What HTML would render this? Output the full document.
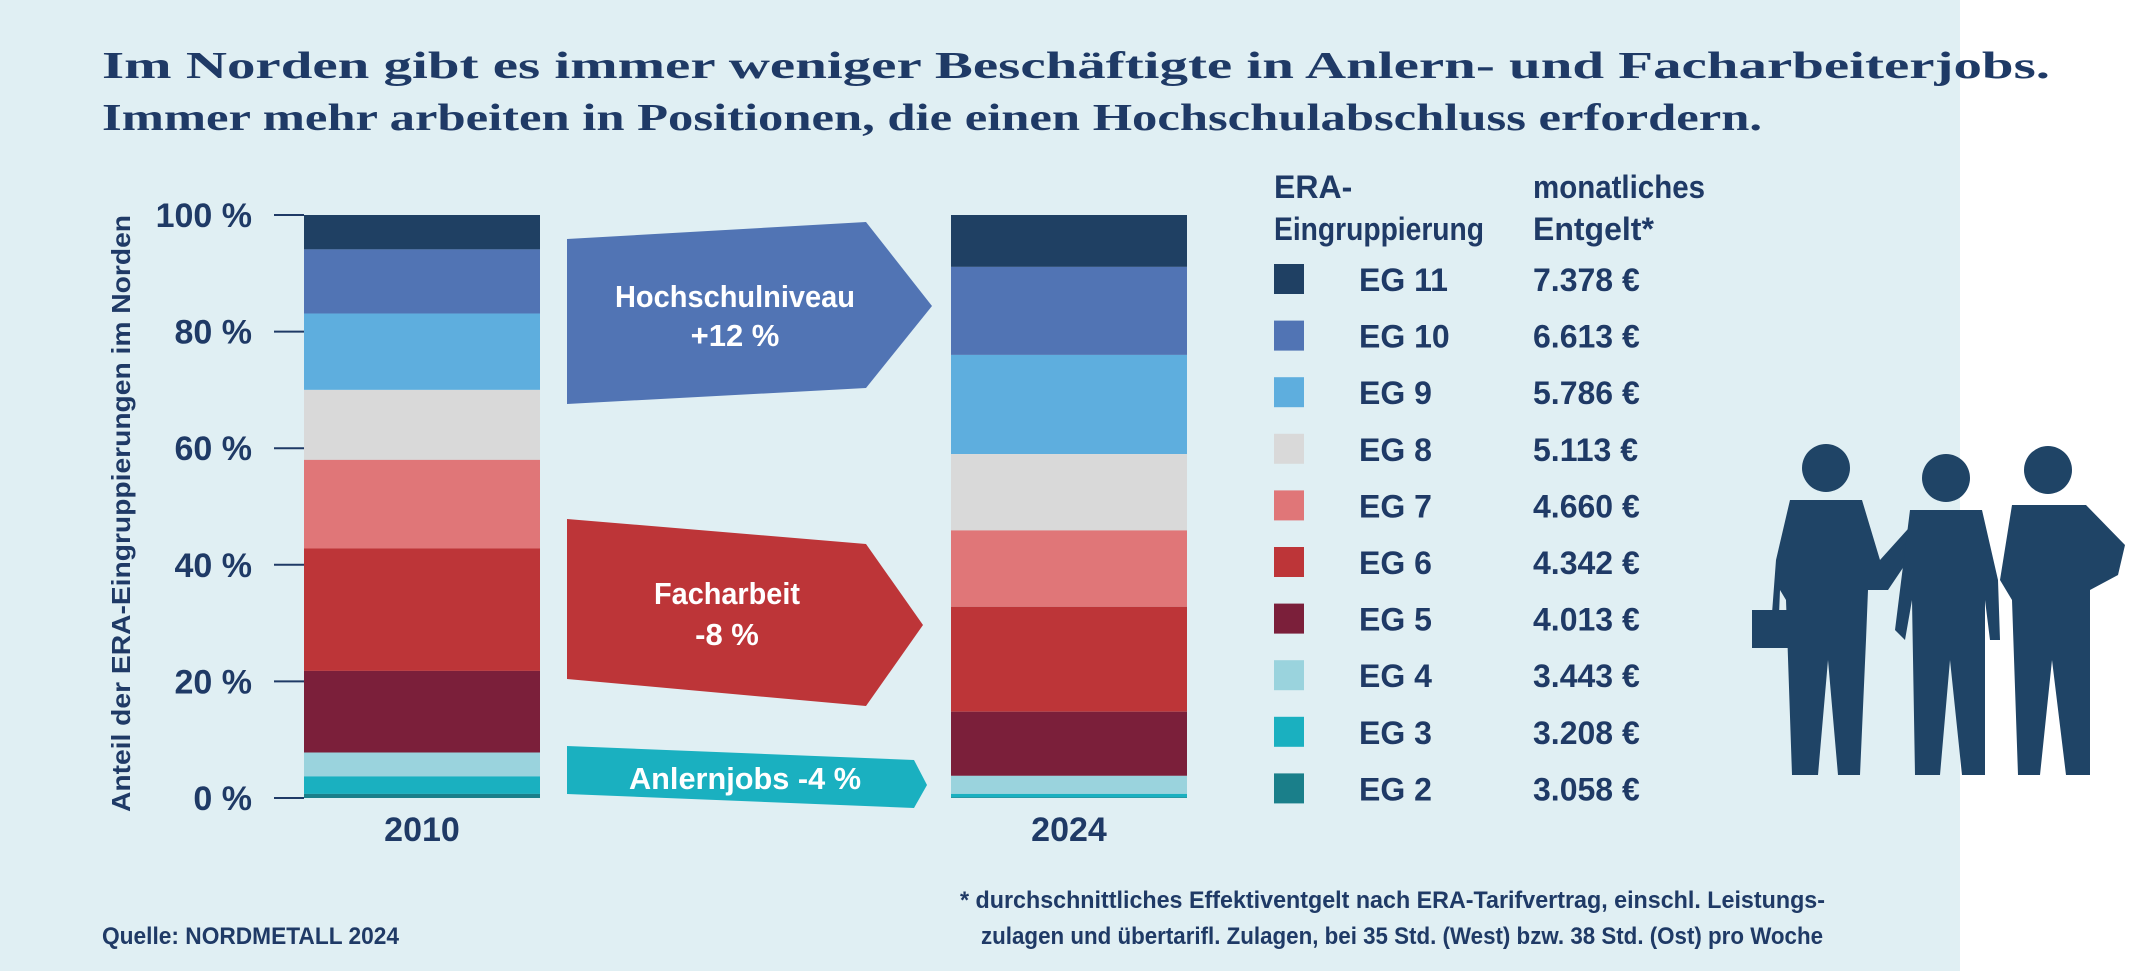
<!DOCTYPE html>
<html><head><meta charset="utf-8"><style>
html,body{margin:0;padding:0;background:#fff}
svg{display:block}
text{font-family:"Liberation Sans Narrow","Liberation Sans",sans-serif;font-weight:bold;fill:#1f3a66}
</style></head><body>
<svg id="chart" width="2131" height="971" viewBox="0 0 2131 971" xmlns="http://www.w3.org/2000/svg">
<rect x="0" y="0" width="1960" height="971" fill="#e0eff3"/>
<text x="102" y="78" font-size="38" textLength="1948" lengthAdjust="spacingAndGlyphs" style="font-family:'Liberation Serif',serif">Im Norden gibt es immer weniger Beschäftigte in Anlern- und Facharbeiterjobs.</text>
<text x="102" y="130" font-size="38" textLength="1660" lengthAdjust="spacingAndGlyphs" style="font-family:'Liberation Serif',serif">Immer mehr arbeiten in Positionen, die einen Hochschulabschluss erfordern.</text>
<text transform="translate(130,812) rotate(-90)" font-size="26" textLength="597" lengthAdjust="spacingAndGlyphs" style="font-family:'Liberation Sans',sans-serif">Anteil der ERA-Eingruppierungen im Norden</text>
<g id="axis"></g>
<g id="bars"></g>
<polygon points="567,239 866,222 932,306 866,388 567,404" fill="#5174b4"/>
<text x="735" y="307" font-size="31" text-anchor="middle" textLength="240" lengthAdjust="spacingAndGlyphs" style="fill:#fff">Hochschulniveau</text>
<text x="735" y="346" font-size="31" text-anchor="middle" style="fill:#fff">+12 %</text>
<polygon points="567,519 866,544 923,625 866,706 567,679" fill="#bd3538"/>
<text x="727" y="604" font-size="31" text-anchor="middle" textLength="146" lengthAdjust="spacingAndGlyphs" style="fill:#fff">Facharbeit</text>
<text x="727" y="645" font-size="31" text-anchor="middle" style="fill:#fff">-8 %</text>
<polygon points="567,746 914,760 927,785 914,808 567,794" fill="#1ab0c0"/>
<text x="745" y="789" font-size="31" text-anchor="middle" textLength="232" lengthAdjust="spacingAndGlyphs" style="fill:#fff">Anlernjobs  -4 %</text>
<g id="legend">
<text x="1274" y="198" font-size="32">ERA-</text>
<text x="1274" y="240" font-size="32" textLength="210" lengthAdjust="spacingAndGlyphs">Eingruppierung</text>
<text x="1533" y="198" font-size="32" textLength="172" lengthAdjust="spacingAndGlyphs">monatliches</text>
<text x="1533" y="240" font-size="32">Entgelt*</text>
</g>
<g fill="#1f4466">
<circle cx="1826" cy="468" r="24"/>
<path d="M1790 500 L1862 500 L1880 560 L1925 510 L1935 520 L1888 590 L1868 590 L1866 640 L1860 775 L1838 775 L1828 660 L1818 775 L1792 775 L1786 600 L1780 590 L1778 640 L1770 640 L1776 560 Z"/>
<rect x="1752" y="610" width="40" height="38"/>
<circle cx="1946" cy="478" r="24"/>
<path d="M1910 510 L1982 510 L1998 580 L2000 640 L1990 640 L1985 600 L1985 775 L1962 775 L1950 660 L1940 775 L1915 775 L1912 600 L1905 640 L1895 630 Z"/>
<circle cx="2048" cy="470" r="24"/>
<path d="M2012 505 L2086 505 L2125 545 L2118 575 L2090 590 L2090 775 L2066 775 L2052 660 L2040 775 L2018 775 L2012 600 L2000 580 Z"/>
</g>
<text x="102" y="944" font-size="24" textLength="297" lengthAdjust="spacingAndGlyphs">Quelle: NORDMETALL 2024</text>
<text x="960" y="908" font-size="24" textLength="865" lengthAdjust="spacingAndGlyphs">* durchschnittliches Effektiventgelt nach ERA-Tarifvertrag, einschl. Leistungs-</text>
<text x="981" y="944" font-size="24" textLength="842" lengthAdjust="spacingAndGlyphs">zulagen und übertarifl. Zulagen, bei 35 Std. (West) bzw. 38 Std. (Ost) pro Woche</text>
</svg>
<script>
const years = ["2010", "2024"];
const groups = ["EG 11","EG 10","EG 9","EG 8","EG 7","EG 6","EG 5","EG 4","EG 3","EG 2"];
const share2010 = [5.9, 11.0, 13.1, 12.0, 15.2, 21.0, 14.0, 4.1, 3.0, 0.7];
const share2024 = [8.9, 15.1, 17.0, 13.1, 13.1, 18.0, 11.0, 3.1, 0.6, 0.1];
const salaries = ["7.378 €","6.613 €","5.786 €","5.113 €","4.660 €","4.342 €","4.013 €","3.443 €","3.208 €","3.058 €"];
const yTicks = [0, 20, 40, 60, 80, 100];
const colors = ["#1f4063","#5174b4","#5eaede","#d9d9d9","#e07678","#bd3538","#7b1f3a","#9ad3dd","#1ab0c0","#1a7f8a"];
const NS = "http://www.w3.org/2000/svg";
const y0 = 798, y100 = 215;
function yScale(v){ return y0 - (v/100)*(y0 - y100); }
const barX = [304, 951], barW = 236;
function mk(tag, attrs, parent){ const e = document.createElementNS(NS, tag); for (const k in attrs) e.setAttribute(k, attrs[k]); parent.appendChild(e); return e; }
const axis = document.getElementById('axis');
yTicks.forEach(t => {
  const l = mk('line', {x1:274, x2:304, y1:yScale(t), y2:yScale(t), stroke:'#1f3a66', 'stroke-width':2}, axis);
  
  
  const tx = mk('text', {x:252, y:yScale(t)+12, 'font-size':34, 'text-anchor':'end'}, axis);
  tx.textContent = t + ' %';
  
  
});
const bars = document.getElementById('bars');
[share2010, share2024].forEach((series, i) => {
  let cum = 100;
  series.forEach((v, j) => {
    const top = yScale(cum), bot = yScale(cum - v);
    const r = mk('rect', {x:barX[i], y:top, width:barW, height:Math.max(0, bot-top), fill:colors[j]}, bars);
    
    
    cum -= v;
  });
  const yl = mk('text', {x:barX[i]+barW/2, y:841, 'font-size':34, 'text-anchor':'middle'}, bars);
  yl.textContent = years[i];
  
  
});
const legend = document.getElementById('legend');
groups.forEach((g, j) => {
  const cy = 279 + j*56.6;
  const s = mk('rect', {x:1274, y:cy-15, width:30, height:30, fill:colors[j]}, legend);
  
  
  const t = mk('text', {x:1359, y:cy+12, 'font-size':32}, legend);
  t.textContent = g;
  
  
  const v = mk('text', {x:1533, y:cy+12, 'font-size':32}, legend);
  v.textContent = salaries[j];
  
  
});
</script>
</body></html>
